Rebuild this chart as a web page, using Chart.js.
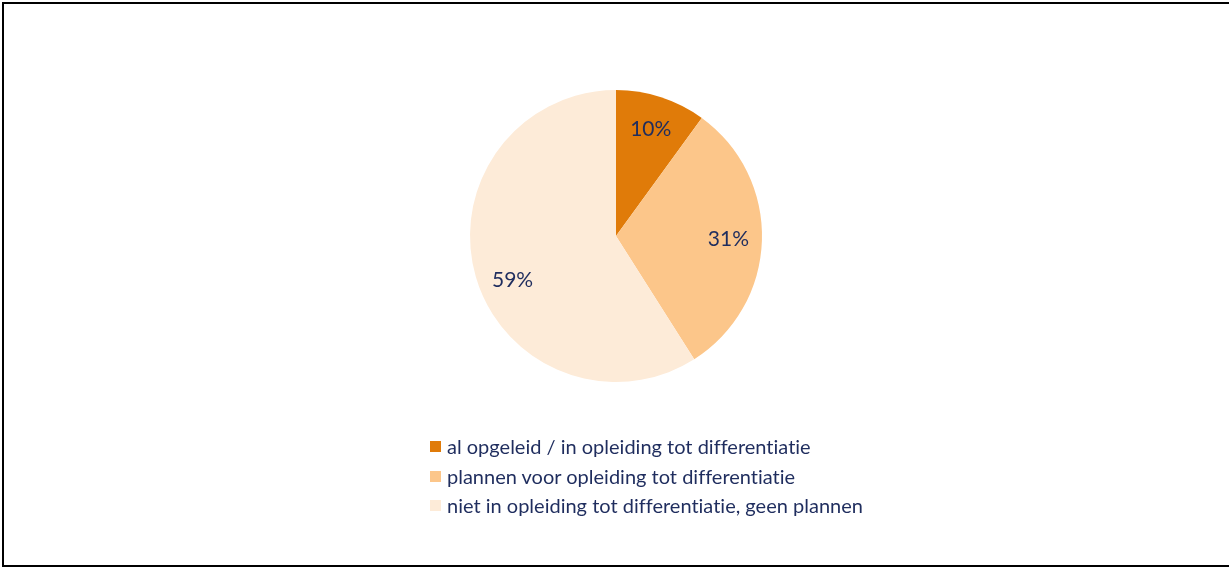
<!DOCTYPE html>
<html>
<head>
<meta charset="utf-8">
<script src="https://cdn.jsdelivr.net/npm/chart.js@4/dist/chart.umd.min.js"></script>
<style>
  html, body { margin: 0; padding: 0; background: #fff; }
  body { width: 1229px; height: 567px; position: relative; overflow: hidden; }
  #frame { position: absolute; left: 2px; top: 2px; width: 1240px; height: 561px;
           border-left: 2px solid #000; border-top: 2px solid #000; border-bottom: 2px solid #000; box-sizing: content-box; }
  #c { position: absolute; left: 0; top: 0; }
  #legend { position: absolute; left: 430px; top: 432px; font-family: Lato, "Open Sans", sans-serif;
            font-size: 20px; color: #1f2d5e; font-variant-ligatures: none; font-feature-settings: "liga" 0; }
  .item { height: 29.5px; line-height: 29.5px; white-space: nowrap; display: flex; align-items: center; }
  .box { width: 11px; height: 11px; margin-right: 6px; display: inline-block; }
</style>
</head>
<body>
<div id="frame"></div>
<canvas id="c" width="1229" height="567"></canvas>
<div id="legend"></div>
<script>
const categories = [
  "al opgeleid / in opleiding tot differentiatie",
  "plannen voor opleiding tot differentiatie",
  "niet in opleiding tot differentiatie, geen plannen"
];
const values = [10, 31, 59];
const colors = ["#e07b09", "#fcc68a", "#fdebd8"];
const labelColor = "#1f2d5e";

const angleTweak = [0, 0, -0.12];
const pctLabels = {
  id: 'pctLabels',
  afterDatasetsDraw(chart) {
    const ctx = chart.ctx;
    const meta = chart.getDatasetMeta(0);
    ctx.save();
    ctx.font = '21px Lato, "Open Sans", sans-serif';
    ctx.fillStyle = labelColor;
    ctx.textAlign = 'center';
    ctx.textBaseline = 'middle';
    meta.data.forEach((arc, i) => {
      const p = arc.getProps(['x','y','startAngle','endAngle','outerRadius'], true);
      const mid = (p.startAngle + p.endAngle) / 2 + angleTweak[i];
      const r = p.outerRadius * 0.77;
      ctx.fillText(values[i] + '%', p.x + Math.cos(mid) * r, p.y + Math.sin(mid) * r);
    });
    ctx.restore();
  }
};

new Chart(document.getElementById('c'), {
  type: 'pie',
  data: {
    labels: categories,
    datasets: [{ data: values, backgroundColor: colors, borderWidth: 0 }]
  },
  options: {
    responsive: false,
    animation: false,
    layout: { padding: { top: 90, bottom: 185, left: 3, right: 0 } },
    plugins: { legend: { display: false }, tooltip: { enabled: false } }
  },
  plugins: [pctLabels]
});

const lg = document.getElementById('legend');
categories.forEach((c, i) => {
  const d = document.createElement('div');
  d.className = 'item';
  const b = document.createElement('span');
  b.className = 'box';
  b.style.background = colors[i];
  const t = document.createElement('span');
  t.textContent = c;
  d.appendChild(b); d.appendChild(t);
  lg.appendChild(d);
});
</script>
</body>
</html>
